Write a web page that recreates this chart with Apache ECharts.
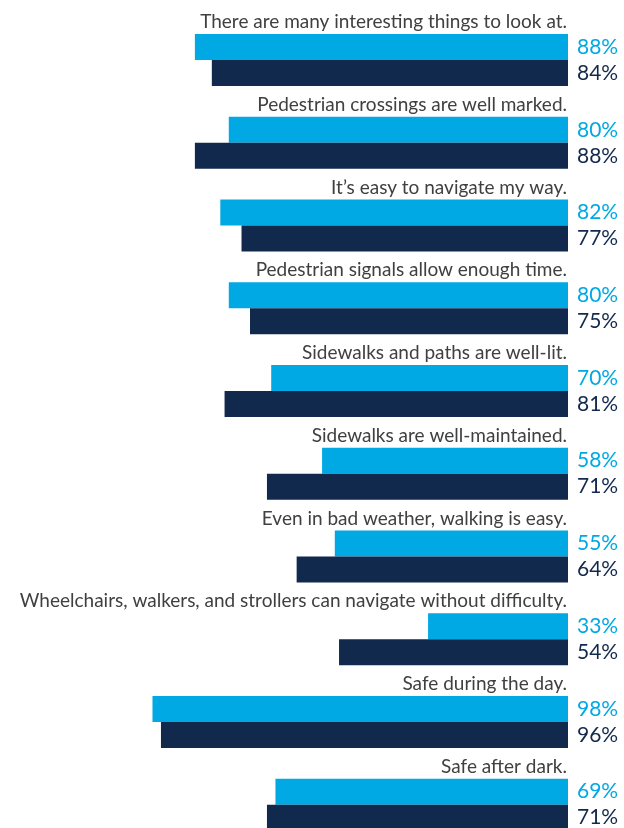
<!DOCTYPE html>
<html>
<head>
<meta charset="utf-8">
<script src="https://cdn.jsdelivr.net/npm/echarts@6/dist/echarts.min.js"></script>
<style>
  html, body { margin: 0; padding: 0; background: #ffffff; overflow: hidden; }
  #chart { width: 624px; height: 846px; }
</style>
</head>
<body>
<div id="chart"></div>
<script>
// Survey statements, top to bottom
const statements = [
  'There are many interesting things to look at.',
  'Pedestrian crossings are well marked.',
  'It\u2019s easy to navigate my way.',
  'Pedestrian signals allow enough time.',
  'Sidewalks and paths are well-lit.',
  'Sidewalks are well-maintained.',
  'Even in bad weather, walking is easy.',
  'Wheelchairs, walkers, and strollers can navigate without difficulty.',
  'Safe during the day.',
  'Safe after dark.'
];
// Share agreeing (%), first group (light bars)
const groupA = [88, 80, 82, 80, 70, 58, 55, 33, 98, 69];
// Share agreeing (%), second group (dark bars)
const groupB = [84, 88, 77, 75, 81, 71, 64, 54, 96, 71];

const LIGHT = '#00a9e4';
const DARK = '#12294e';
const FONT = 'Lato';

const chart = echarts.init(document.getElementById('chart'), null, { renderer: 'canvas' });

function barSeries(name, data, color) {
  return {
    name: name,
    type: 'bar',
    data: data,
    barWidth: 26,
    barGap: '0%',
    itemStyle: { color: color },
    silent: true,
    label: {
      show: true,
      position: 'right',
      distance: 9,
      formatter: '{c}%',
      color: color,
      fontFamily: FONT,
      fontSize: 21
    }
  };
}

chart.setOption({
  animation: false,
  grid: { left: 144, right: 56, top: 18.7, bottom: 0, containLabel: false },
  xAxis: {
    type: 'value',
    inverse: true,
    min: 0,
    max: 100,
    show: false
  },
  yAxis: {
    type: 'category',
    data: statements,
    inverse: true,
    position: 'right',
    z: 10,
    axisLine: { show: false },
    axisTick: { show: false },
    splitLine: { show: false },
    axisLabel: {
      inside: true,
      margin: 1,
      // statement sits on its own line above the pair of bars
      formatter: function (v) { return '{t|' + v + '}\n{gap| }'; },
      rich: {
        t: { color: '#404040', fontFamily: FONT, fontSize: 19, lineHeight: 20 },
        gap: { fontSize: 10, lineHeight: 76 }
      }
    }
  },
  series: [
    barSeries('A', groupA, LIGHT),
    barSeries('B', groupB, DARK)
  ]
});
</script>
</body>
</html>
